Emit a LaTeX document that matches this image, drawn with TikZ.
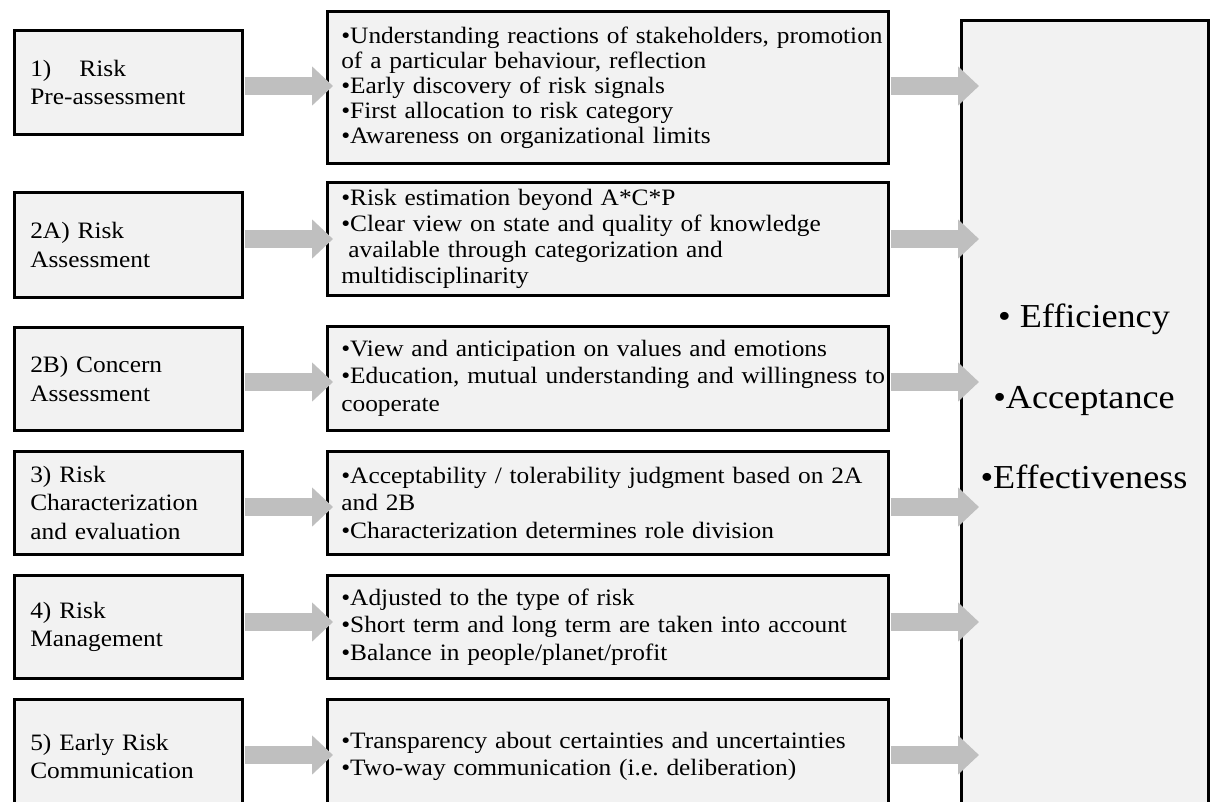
\documentclass[tikz,border=0pt]{standalone}
\usepackage{fontspec}
\setmainfont{Liberation Serif}[FakeStretch=1.08]
\usetikzlibrary{arrows.meta,calc}
\definecolor{boxfill}{HTML}{F2F2F2}
\definecolor{arrowgray}{HTML}{BFBFBF}
\frenchspacing
\tikzset{
  boxbase/.style={draw=black, line width=2.6pt, fill=boxfill, anchor=north west, inner ysep=0pt},
  lbox/.style={boxbase, text width=196pt, inner xsep=16pt, align=left, minimum width=228pt,
    font=\fontsize{23.5}{28.5}\selectfont},
  mbox/.style={boxbase, text width=533pt, inner xsep=14pt, align=left, minimum width=561pt,
    font=\fontsize{23.5}{27.5}\selectfont},
  rbox/.style={boxbase, minimum width=247pt, minimum height=840pt},
  rtext/.style={anchor=base, font=\fontsize{33.5}{40}\selectfont, inner sep=0pt},
  blockarrow/.style={draw=arrowgray, line width=18pt, -{Triangle[length=21pt,width=38pt]}},
}
\begin{document}
\begin{tikzpicture}[x=1pt,y=-1pt]
\useasboundingbox (0,0) rectangle (1210,801);
\fill[white] (0,0) rectangle (1210,801);
\clip (0,0) rectangle (1210,801);

% left boxes
\node[lbox, minimum height=104pt] (l1) at (13,29) {1)\hspace{28pt}Risk\\Pre-assessment};
\node[lbox, minimum height=105pt] (l2) at (13,191) {2A) Risk\\Assessment};
\node[lbox, minimum height=103pt] (l3) at (13,326) {2B) Concern\\Assessment};
\node[lbox, minimum height=103pt] (l4) at (13,450) {3) Risk\\Characterization\\and evaluation};
\node[lbox, minimum height=103pt] (l5) at (13,574) {4) Risk\\Management};
\node[lbox, minimum height=114pt] (l6) at (13,698) {5) Early Risk\\Communication};

% middle boxes
\node[mbox, minimum height=152pt, font=\fontsize{23.5}{25}\selectfont] (m1) at (326,10)
  {\mbox{•Understanding reactions of stakeholders, promotion}\\
   \mbox{of a particular behaviour, reflection}\\
   \mbox{•Early discovery of risk signals}\\
   \mbox{•First allocation to risk category}\\
   \mbox{•Awareness on organizational limits}};
\node[mbox, minimum height=113pt, font=\fontsize{23.5}{25.8}\selectfont] (m2) at (326,181)
  {\mbox{•Risk estimation beyond A*C*P}\\
   \mbox{•Clear view on state and quality of knowledge}\\
   \mbox{\hspace{0.3em}available through categorization and}\\
   \mbox{multidisciplinarity}};
\node[mbox, minimum height=104pt] (m3) at (326,325)
  {\mbox{•View and anticipation on values and emotions}\\
   \mbox{•Education, mutual understanding and willingness to}\\
   \mbox{cooperate}};
\node[mbox, minimum height=103pt] (m4) at (326,450)
  {\mbox{•Acceptability / tolerability judgment based on 2A}\\
   \mbox{and 2B}\\
   \mbox{•Characterization determines role division}};
\node[mbox, minimum height=103pt] (m5) at (326,574)
  {\mbox{•Adjusted to the type of risk}\\
   \mbox{•Short term and long term are taken into account}\\
   \mbox{•Balance in people/planet/profit}};
\node[mbox, minimum height=114pt] (m6) at (326,698)
  {\mbox{•Transparency about certainties and uncertainties}\\
   \mbox{•Two-way communication (i.e. deliberation)}};

% right box
\node[rbox] (R) at (960,19) {};
\node[rtext] (e1) at (1084,327) {• Efficiency};
\node[rtext] (e2) at (1084,408) {•Acceptance};
\node[rtext] (e3) at (1084,488) {•Effectiveness};

% arrow rows
\coordinate (r1) at (0,86);
\coordinate (r2) at (0,239);
\coordinate (r3) at (0,382);
\coordinate (r4) at (0,507);
\coordinate (r5) at (0,622);
\coordinate (r6) at (0,755);

\foreach \i in {1,...,6}{
  \draw[blockarrow] ($(l\i.east |- r\i)+(1.3,0)$) -- ($(m\i.west |- r\i)+(7,0)$);
  \draw[blockarrow] ($(m\i.east |- r\i)+(1.3,0)$) -- ($(R.west |- r\i)+(19,0)$);
}
\end{tikzpicture}
\end{document}
